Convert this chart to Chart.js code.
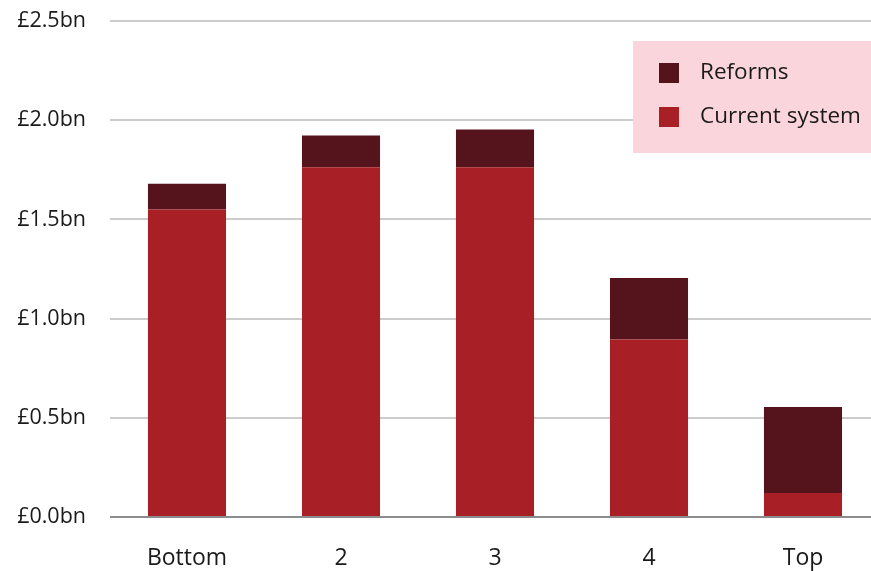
<!DOCTYPE html>
<html>
<head>
<meta charset="utf-8">
<script src="https://cdn.jsdelivr.net/npm/chart.js@4/dist/chart.umd.min.js"></script>
<style>
html,body{margin:0;padding:0;background:#fff;overflow:hidden;width:871px;height:571px;}
#wrap{width:880px;height:571px;}
</style>
</head>
<body>
<div id="wrap"><canvas id="c" width="880" height="571"></canvas></div>
<script>
const categories = ['Bottom', '2', '3', '4', 'Top'];
const currentSystem = [1.55, 1.763, 1.763, 0.895, 0.121];
const reforms = [0.13, 0.16, 0.19, 0.31, 0.434];
const yTicks = [0, 0.5, 1.0, 1.5, 2.0, 2.5];

const FONT = '"Open Sans", sans-serif';
const DARK = '#55141c';
const RED = '#a81f26';

const legendPlugin = {
  id: 'boxLegend',
  afterDraw(chart) {
    const ctx = chart.ctx;
    ctx.save();
    ctx.fillStyle = '#fad5dc';
    ctx.fillRect(633, 41, 250, 112);
    const items = chart.data.datasets.slice().reverse();
    ctx.font = '22.5px ' + FONT;
    ctx.textBaseline = 'middle';
    ctx.textAlign = 'left';
    items.forEach((ds, i) => {
      const y = 63 + i * 44;
      ctx.fillStyle = ds.backgroundColor;
      ctx.fillRect(659, y, 20, 20);
      ctx.fillStyle = '#1a1a1a';
      ctx.fillText(ds.label, 700, y + 10);
    });
    ctx.restore();
  }
};

new Chart(document.getElementById('c'), {
  type: 'bar',
  data: {
    labels: categories,
    datasets: [
      { label: 'Current system', data: currentSystem, backgroundColor: RED, barPercentage: 0.507, categoryPercentage: 1.0 },
      { label: 'Reforms', data: reforms, backgroundColor: DARK, barPercentage: 0.507, categoryPercentage: 1.0 }
    ]
  },
  options: {
    responsive: false,
    animation: false,
    devicePixelRatio: 1,
    layout: { padding: { top: 21, left: 0, right: 0, bottom: 0 } },
    plugins: { legend: { display: false }, tooltip: { enabled: false } },
    scales: {
      x: {
        stacked: true,
        grid: { display: false, drawTicks: false },
        border: { display: false },
        ticks: { color: '#1a1a1a', font: { family: FONT, size: 23 }, padding: 28, maxRotation: 0 },
        afterFit(s) { s.height = 54; }
      },
      y: {
        stacked: true,
        min: 0, max: 2.5,
        afterBuildTicks(s) { s.ticks = yTicks.map(v => ({ value: v })); },
        grid: {
          drawTicks: false,
          lineWidth: 2,
          color: c => (c.tick && c.tick.value === 0) ? '#8c8c8c' : '#cccccc'
        },
        border: { display: false },
        ticks: {
          color: '#1a1a1a',
          font: { family: FONT, size: 21.5 },
          padding: 24,
          callback: v => '£' + Number(v).toFixed(1) + 'bn'
        },
        afterFit(s) { s.width = 110; s.paddingTop = 0; s.paddingBottom = 0; }
      }
    }
  },
  plugins: [legendPlugin]
});
</script>
</body>
</html>
